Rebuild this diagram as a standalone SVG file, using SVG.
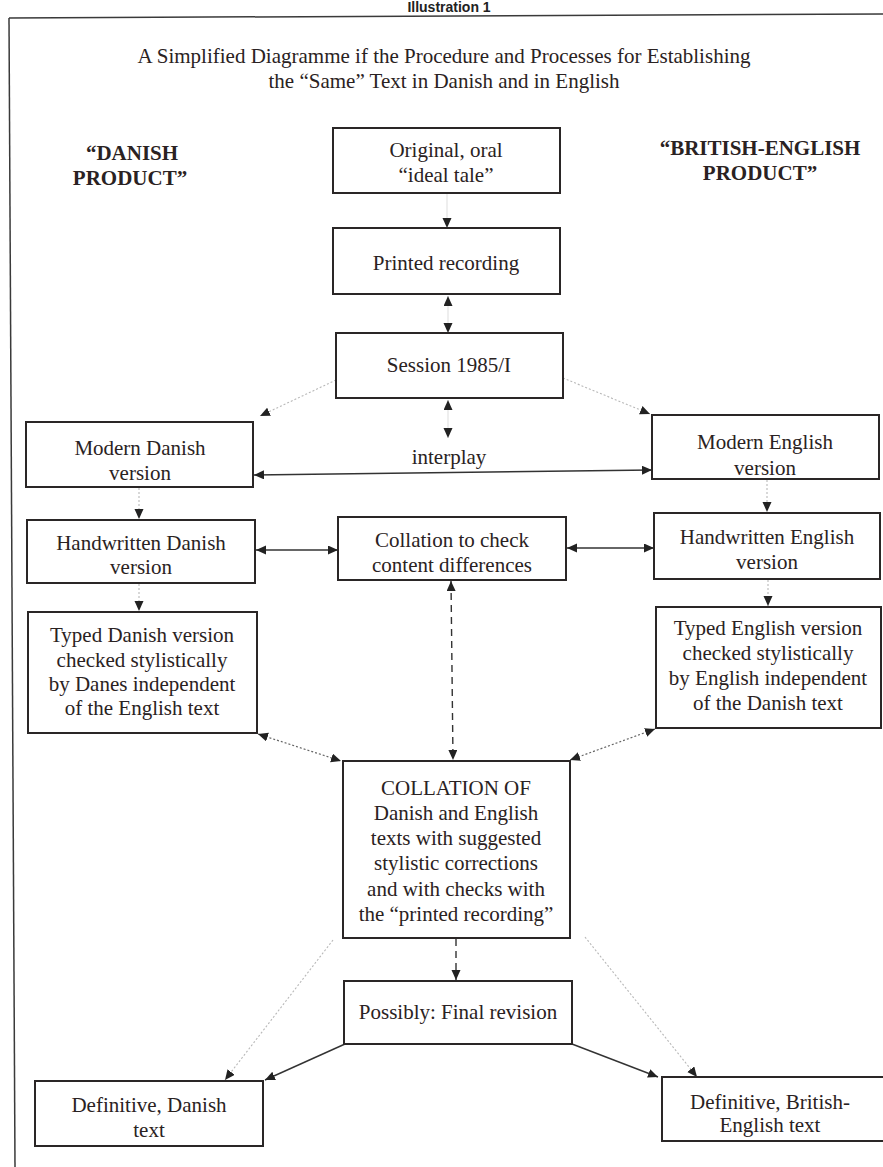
<svg xmlns="http://www.w3.org/2000/svg" width="883" height="1167" viewBox="0 0 883 1167">
  <style>
    .box { fill: #ffffff; stroke: #2a2626; stroke-width: 2; }
    .t { font-family: "Liberation Serif", "Times New Roman", serif; font-size: 21px; fill: #2a2222; text-anchor: middle; }
    .b { font-weight: bold; }
    .frame { stroke: #3a3a3a; stroke-width: 1.5; fill: none; }
    .solid { stroke: #333333; stroke-width: 1.4; fill: none; }
    .dash { stroke: #333333; stroke-width: 1.4; fill: none; stroke-dasharray: 7 5; }
    .dot { stroke: #666666; stroke-width: 1.2; fill: none; stroke-dasharray: 2 2; }
    .faint { stroke: #b8b8b8; stroke-width: 1.1; fill: none; stroke-dasharray: 2 2; }
    .ghost { stroke: #dddddd; stroke-width: 1; fill: none; }
  </style>
  <defs>
    <marker id="ah" markerUnits="userSpaceOnUse" markerWidth="11" markerHeight="10" refX="10" refY="4.5" orient="auto-start-reverse" viewBox="0 0 11 10">
      <path d="M0,0 L10,4.5 L0,9 Z" fill="#222222"/>
    </marker>
  </defs>

  <rect width="883" height="1167" fill="#ffffff"/>

  <!-- page heading and frame -->
  <text x="449" y="12" style="font-family: 'Liberation Sans', Arial, sans-serif; font-size: 14px; font-weight: bold; fill: #222; text-anchor: middle;">Illustration 1</text>
  <line class="frame" x1="9" y1="18" x2="883" y2="14"/>
  <line class="frame" x1="9" y1="18" x2="15" y2="1167"/>

  <!-- title -->
  <text class="t" x="444" y="63">A Simplified Diagramme if the Procedure and Processes for Establishing</text>
  <text class="t" x="444" y="88">the “Same” Text in Danish and in English</text>

  <!-- column headings -->
  <g id="label-danish">
    <text class="t b" x="132" y="160">“DANISH</text>
    <text class="t b" x="130" y="185">PRODUCT”</text>
  </g>
  <g id="label-british">
    <text class="t b" x="760" y="155">“BRITISH-ENGLISH</text>
    <text class="t b" x="760" y="180">PRODUCT”</text>
  </g>

  <!-- connectors -->
  <g id="connectors">
    <line class="ghost" x1="447" y1="194" x2="447" y2="228" marker-end="url(#ah)"/>
    <line class="ghost" x1="448" y1="296" x2="448" y2="333" marker-start="url(#ah)" marker-end="url(#ah)"/>
    <line class="ghost" x1="448" y1="400" x2="448" y2="438" marker-start="url(#ah)" marker-end="url(#ah)"/>
    <line class="faint" x1="336" y1="380" x2="260" y2="416" marker-end="url(#ah)"/>
    <line class="faint" x1="563" y1="378" x2="650" y2="414" marker-end="url(#ah)"/>
    <line class="solid" x1="254" y1="475" x2="652" y2="470" marker-start="url(#ah)" marker-end="url(#ah)"/>
    <line class="faint" x1="139" y1="488" x2="139" y2="519" marker-end="url(#ah)"/>
    <line class="faint" x1="767" y1="480" x2="767" y2="512" marker-end="url(#ah)"/>
    <line class="solid" x1="256" y1="550" x2="338" y2="550" marker-start="url(#ah)" marker-end="url(#ah)"/>
    <line class="solid" x1="567" y1="548" x2="654" y2="548" marker-start="url(#ah)" marker-end="url(#ah)"/>
    <line class="faint" x1="139" y1="584" x2="139" y2="611" marker-end="url(#ah)"/>
    <line class="faint" x1="768" y1="580" x2="768" y2="606" marker-end="url(#ah)"/>
    <line class="dash" x1="451" y1="581" x2="453" y2="760" marker-start="url(#ah)" marker-end="url(#ah)"/>
    <line class="dot" x1="258" y1="734" x2="341" y2="761" marker-start="url(#ah)" marker-end="url(#ah)"/>
    <line class="dot" x1="655" y1="729" x2="570" y2="760" marker-start="url(#ah)" marker-end="url(#ah)"/>
    <line class="dash" x1="456" y1="939" x2="456" y2="980" marker-end="url(#ah)"/>
    <line class="faint" x1="333" y1="940" x2="225" y2="1080" marker-end="url(#ah)"/>
    <line class="solid" x1="345" y1="1044" x2="265" y2="1080" marker-end="url(#ah)"/>
    <line class="solid" x1="572" y1="1044" x2="658" y2="1077" marker-end="url(#ah)"/>
    <line class="faint" x1="585" y1="937" x2="697" y2="1077" marker-end="url(#ah)"/>
  </g>

  <text id="interplay" class="t" x="449" y="464">interplay</text>

  <!-- nodes -->
  <g id="n-original">
    <rect class="box" x="333" y="128" width="227" height="65"/>
    <text class="t" x="446" y="157">Original, oral</text>
    <text class="t" x="446" y="182">“ideal tale”</text>
  </g>
  <g id="n-printed">
    <rect class="box" x="333" y="228" width="227" height="66"/>
    <text class="t" x="446" y="270">Printed recording</text>
  </g>
  <g id="n-session">
    <rect class="box" x="336" y="333" width="227" height="65"/>
    <text class="t" x="449" y="372">Session 1985/I</text>
  </g>
  <g id="n-modern-danish">
    <rect class="box" x="26" y="422" width="227" height="65"/>
    <text class="t" x="140" y="455">Modern Danish</text>
    <text class="t" x="140" y="480">version</text>
  </g>
  <g id="n-modern-english">
    <rect class="box" x="652" y="415" width="227" height="64"/>
    <text class="t" x="765" y="449">Modern English</text>
    <text class="t" x="765" y="475">version</text>
  </g>
  <g id="n-handwritten-danish">
    <rect class="box" x="27" y="520" width="228" height="63"/>
    <text class="t" x="141" y="550">Handwritten Danish</text>
    <text class="t" x="141" y="574">version</text>
  </g>
  <g id="n-collation-content">
    <rect class="box" x="338" y="517" width="228" height="63"/>
    <text class="t" x="452" y="547">Collation to check</text>
    <text class="t" x="452" y="572">content differences</text>
  </g>
  <g id="n-handwritten-english">
    <rect class="box" x="654" y="513" width="226" height="66"/>
    <text class="t" x="767" y="544">Handwritten English</text>
    <text class="t" x="767" y="569">version</text>
  </g>
  <g id="n-typed-danish">
    <rect class="box" x="28" y="612" width="229" height="121"/>
    <text class="t" x="142" y="642">Typed Danish version</text>
    <text class="t" x="142" y="667">checked stylistically</text>
    <text class="t" x="142" y="691">by Danes independent</text>
    <text class="t" x="142" y="715">of the English text</text>
  </g>
  <g id="n-typed-english">
    <rect class="box" x="656" y="607" width="225" height="121"/>
    <text class="t" x="768" y="635">Typed English version</text>
    <text class="t" x="768" y="660">checked stylistically</text>
    <text class="t" x="768" y="685">by English independent</text>
    <text class="t" x="768" y="710">of the Danish text</text>
  </g>
  <g id="n-collation-of">
    <rect class="box" x="343" y="761" width="227" height="177"/>
    <text class="t" x="456" y="795">COLLATION OF</text>
    <text class="t" x="456" y="820">Danish and English</text>
    <text class="t" x="456" y="845">texts with suggested</text>
    <text class="t" x="456" y="870">stylistic corrections</text>
    <text class="t" x="456" y="896">and with checks with</text>
    <text class="t" x="456" y="921">the “printed recording”</text>
  </g>
  <g id="n-final-revision">
    <rect class="box" x="344" y="981" width="228" height="63"/>
    <text class="t" x="458" y="1019">Possibly: Final revision</text>
  </g>
  <g id="n-definitive-danish">
    <rect class="box" x="35" y="1081" width="228" height="65"/>
    <text class="t" x="149" y="1112">Definitive, Danish</text>
    <text class="t" x="149" y="1137">text</text>
  </g>
  <g id="n-definitive-british">
    <rect class="box" x="662" y="1077" width="230" height="64"/>
    <text class="t" x="770" y="1109">Definitive, British-</text>
    <text class="t" x="770" y="1132">English text</text>
  </g>
</svg>
